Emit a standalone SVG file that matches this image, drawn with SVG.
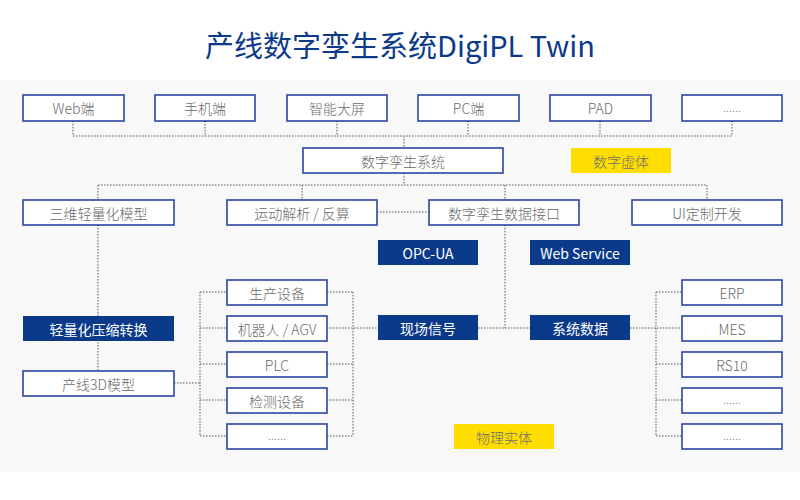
<svg xmlns="http://www.w3.org/2000/svg" width="800" height="500" viewBox="0 0 800 500">
<style>
text{font-family:"Noto Sans CJK SC","Noto Sans",sans-serif;font-size:14px;font-weight:300;text-anchor:middle;dominant-baseline:central}
.b rect{fill:#fff;stroke:#2b45a0;stroke-width:1.6}
.b text{fill:#6a6a6a}
.d rect{fill:#0c3a8a}
.d text{fill:#fff;font-weight:400}
.y rect{fill:#fedd00}
.y text{fill:#707070}
#conn path{fill:none;stroke:#8a8a8a;stroke-width:1.5;stroke-dasharray:1.5 1.5}
</style>
<rect x="0" y="0" width="800" height="500" fill="#fff"/>
<rect x="0" y="80" width="800" height="392" fill="#f8f8f8"/>
<text x="400" y="44" style="font-size:29px;fill:#0c3a8a;font-weight:400">产线数字孪生系统DigiPL Twin</text>
<g id="conn">
<path d="M73 121V136M205 121V136M337 121V136M468 121V136M600 121V136M732 121V136M73 136H732M404 136V148"/>
<path d="M404 173V185M98 185H707M98 185V200M302 185V200M505 185V200M707 185V200"/>
<path d="M377 212H429"/>
<path d="M98 225V371"/>
<path d="M505 225V328M478 328H530"/>
<path d="M174 383H200M200 292V436M200 292H227M200 328H227M200 364H227M200 400H227M200 436H227"/>
<path d="M353 292V436M327 292H353M327 328H378M327 364H353M327 400H353M327 436H353"/>
<path d="M630 328H682M656 292V436M656 292H682M656 364H682M656 400H682M656 436H682"/>
</g>
<g id="web" class="b"><rect x="23" y="95" width="101" height="26"/><text x="73.5" y="108">Web端</text></g>
<g id="mobile" class="b"><rect x="155" y="95" width="100" height="26"/><text x="205" y="108">手机端</text></g>
<g id="bigscreen" class="b"><rect x="287" y="95" width="100" height="26"/><text x="337" y="108">智能大屏</text></g>
<g id="pc" class="b"><rect x="418" y="95" width="101" height="26"/><text x="468.5" y="108">PC端</text></g>
<g id="pad" class="b"><rect x="550" y="95" width="101" height="26"/><text x="600.5" y="108">PAD</text></g>
<g id="more1" class="b"><rect x="682" y="95" width="100" height="26"/><text x="732" y="106" style="font-size:12px">......</text></g>
<g id="dts" class="b"><rect x="303" y="148" width="200" height="25"/><text x="403" y="160.5">数字孪生系统</text></g>
<g id="virtual" class="y"><rect x="571" y="148" width="100" height="25"/><text x="621" y="160.5">数字虚体</text></g>
<g id="light3d" class="b"><rect x="23" y="200" width="151" height="25"/><text x="98.5" y="212.5">三维轻量化模型</text></g>
<g id="motion" class="b"><rect x="227" y="200" width="150" height="25"/><text x="302" y="212.5">运动解析 / 反算</text></g>
<g id="api" class="b"><rect x="429" y="200" width="150" height="25"/><text x="504" y="212.5">数字孪生数据接口</text></g>
<g id="ui" class="b"><rect x="632" y="200" width="150" height="25"/><text x="707" y="212.5">UI定制开发</text></g>
<g id="opcua" class="d"><rect x="378" y="240" width="100" height="25"/><text x="428" y="252.5">OPC-UA</text></g>
<g id="websvc" class="d"><rect x="530" y="240" width="100" height="25"/><text x="580" y="252.5">Web Service</text></g>
<g id="compress" class="d"><rect x="23" y="316" width="151" height="25"/><text x="98.5" y="328.5">轻量化压缩转换</text></g>
<g id="line3d" class="b"><rect x="23" y="371" width="151" height="25"/><text x="98.5" y="383.5">产线3D模型</text></g>
<g id="equip" class="b"><rect x="227" y="280" width="100" height="25"/><text x="277" y="292.5">生产设备</text></g>
<g id="robot" class="b"><rect x="227" y="316" width="100" height="25"/><text x="277" y="328.5">机器人 / AGV</text></g>
<g id="plc" class="b"><rect x="227" y="352" width="100" height="25"/><text x="277" y="364.5">PLC</text></g>
<g id="inspect" class="b"><rect x="227" y="388" width="100" height="25"/><text x="277" y="400.5">检测设备</text></g>
<g id="more2" class="b"><rect x="227" y="424" width="100" height="25"/><text x="277" y="434.5" style="font-size:12px">......</text></g>
<g id="field" class="d"><rect x="378" y="315" width="100" height="25"/><text x="428" y="327.5">现场信号</text></g>
<g id="sysdata" class="d"><rect x="530" y="315" width="100" height="25"/><text x="580" y="327.5">系统数据</text></g>
<g id="erp" class="b"><rect x="682" y="280" width="100" height="25"/><text x="732" y="292.5">ERP</text></g>
<g id="mes" class="b"><rect x="682" y="316" width="100" height="25"/><text x="732" y="328.5">MES</text></g>
<g id="rs10" class="b"><rect x="682" y="352" width="100" height="25"/><text x="732" y="364.5">RS10</text></g>
<g id="more3" class="b"><rect x="682" y="388" width="100" height="25"/><text x="732" y="398.5" style="font-size:12px">......</text></g>
<g id="more4" class="b"><rect x="682" y="424" width="100" height="25"/><text x="732" y="434.5" style="font-size:12px">......</text></g>
<g id="physical" class="y"><rect x="454" y="424" width="100" height="25"/><text x="504" y="436.5">物理实体</text></g>
</svg>
